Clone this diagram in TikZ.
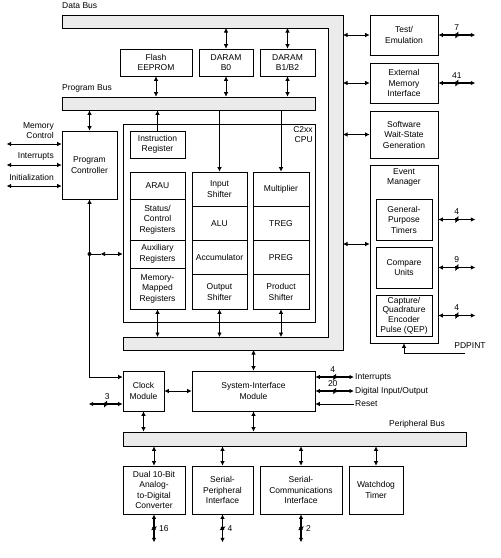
\documentclass[tikz,border=0pt]{standalone}
\usepackage{fontspec}
\setmainfont{Liberation Sans}
\usetikzlibrary{arrows.meta, positioning, calc}

\tikzset{
  blk/.style={draw, line width=0.7pt, align=center, inner sep=1pt},
  bus/.style={draw, line width=0.7pt, fill=black!8, inner sep=0pt},
  lbl/.style={inner sep=1pt},
  num/.style={inner sep=0.5pt},
  dbl/.style={{Latex[length=4.5pt,width=4.5pt]}-{Latex[length=4.5pt,width=4.5pt]}, line width=0.7pt},
  one/.style={-{Latex[length=4.5pt,width=4.5pt]}, line width=0.7pt},
  wide/.style={dbl, line width=1.3pt},
  hslash/.pic={\draw[line width=0.7pt] (-1.5,3.5) -- (1.5,-3.5);},
  vslash/.pic={\draw[line width=0.7pt] (-3,2) -- (3,-2);}
}

\begin{document}
\begin{tikzpicture}[x=1pt, y=-1pt, font=\fontsize{8.5}{10.5}\selectfont]
\useasboundingbox (0,0) rectangle (501,558);

% Data bus (L shape) and the other buses
\draw[bus] (62,15) -- (343,15) -- (343,350) -- (123,350) -- (123,337) -- (328,337) -- (328,28) -- (62,28) -- cycle;
\coordinate (dbtop) at (0,28);
\coordinate (dbright) at (343,0);
\coordinate (dbbot) at (0,337);
\coordinate (dbout) at (0,350);
\node[bus, minimum width=253, minimum height=13] (pbus) at (188.5,103.5) {};
\node[bus, minimum width=343, minimum height=14] (perbus) at (294.5,439) {};

\node[lbl, anchor=west] at (61,6) {Data Bus};
\node[lbl, anchor=west] at (61,88) {Program Bus};
\node[lbl] at (417,424) {Peripheral Bus};

% Memories
\node[blk, minimum width=72, minimum height=27] (flash) at (156,62.5) {Flash\\EEPROM};
\node[blk, minimum width=54, minimum height=27] (b0) at (226,62.5) {DARAM\\B0};
\node[blk, minimum width=55, minimum height=27] (b12) at (287.5,62.5) {DARAM\\B1/B2};

\draw[dbl] (b0.north) -- (b0.north |- dbtop);
\draw[dbl] (b12.north) -- (b12.north |- dbtop);
\foreach \m in {flash,b0,b12}
  \draw[dbl] (\m.south) -- (\m.south |- pbus.north);

% Program controller
\node[blk, minimum width=55, minimum height=68] (pc) at (89.5,165) {Program\\Controller};
\draw[dbl] (pc.north) -- (pc.north |- pbus.south);

\node[lbl, anchor=south east, align=right] at (55,140) {Memory\\Control};
\node[lbl, anchor=south east] at (55,161) {Interrupts};
\node[lbl, anchor=south east] at (55,182) {Initialization};
\draw[dbl] (pc.west |- 0,144) -- +(-55,0);
\draw[dbl] (pc.west |- 0,165) -- +(-55,0);
\draw[dbl] (pc.west |- 0,186) -- +(-55,0);

% CPU
\node[draw, line width=0.7pt, minimum width=192, minimum height=198] (cpu) at (219,223) {};
\node[lbl, anchor=north east, align=right, inner sep=2.5pt] at (cpu.north east) {C2xx\\CPU};

\node[blk, minimum width=55, minimum height=27] (ir) at (157.5,144.5) {Instruction\\Register};
\draw[one] (ir.north) -- (ir.north |- pbus.south);

% left column
\node[blk, minimum width=55, minimum height=27] (arau) at (157.5,185.5) {ARAU};
\node[blk, minimum width=55, minimum height=41] (stat) at (157.5,219.5) {Status/\\Control\\Registers};
\node[blk, minimum width=55, minimum height=28] (aux) at (157.5,254) {Auxiliary\\Registers};
\node[blk, minimum width=55, minimum height=41] (mmr) at (157.5,288.5) {Memory-\\Mapped\\Registers};

% middle column
\node[blk, minimum width=55, minimum height=34.25] (ish) at (219.5,189.1) {Input\\Shifter};
\node[blk, minimum width=55, minimum height=34.25] (alu) at (219.5,223.4) {ALU};
\node[blk, minimum width=55, minimum height=34.25] (acc) at (219.5,257.6) {Accumulator};
\node[blk, minimum width=55, minimum height=34.25] (osh) at (219.5,291.9) {Output\\Shifter};

% right column
\node[blk, minimum width=56, minimum height=34.25] (mul) at (281,189.1) {Multiplier};
\node[blk, minimum width=56, minimum height=34.25] (treg) at (281,223.4) {TREG};
\node[blk, minimum width=56, minimum height=34.25] (preg) at (281,257.6) {PREG};
\node[blk, minimum width=56, minimum height=34.25] (psh) at (281,291.9) {Product\\Shifter};

\draw[one] (pbus.south -| ish.north) -- (ish.north);
\draw[one] (pbus.south -| mul.north) -- (mul.north);
\foreach \m in {mmr,osh,psh}
  \draw[dbl] (\m.south) -- (\m.south |- dbbot);

% Clock and system interface
\node[blk, minimum width=41, minimum height=40] (clk) at (143.5,391) {Clock\\Module};
\node[blk, minimum width=123, minimum height=40] (sim) at (253.5,391) {System-Interface\\Module};

\coordinate (dot) at (89.5,254);
\fill (dot) circle (2);
\draw[one] (dot) -- (pc.south);
\draw (dot) -- ++(11,0) coordinate (dotr);
\draw[dbl] (dotr) -- (dotr -| cpu.west);
\draw[one] (dot) |- ([yshift=14pt]clk.west);

\draw[dbl] (clk.east) -- (sim.west);
\draw[dbl] (sim.north) -- (sim.north |- dbout);
\draw[dbl] (clk.south) -- (clk.south |- perbus.north);
\draw[dbl] (sim.south) -- (sim.south |- perbus.north);
\draw[wide] ([yshift=-13pt]clk.west) -- ++(-34,0) pic[pos=.5]{hslash} node[num, pos=.45, above=3.5pt] {3};

\node[lbl, anchor=west] (intr) at (354,377) {Interrupts};
\node[lbl, anchor=west] (dio) at (354,391) {Digital Input/Output};
\node[lbl, anchor=west] (rst) at (354,404) {Reset};
\draw[wide] (sim.east |- intr) -- (intr.west) pic[pos=.5]{hslash} node[num, pos=.45, above=3.5pt] {4};
\draw[wide] (sim.east |- dio) -- (dio.west) pic[pos=.5]{hslash} node[num, pos=.45, above=3.5pt] {20};
\draw[one] (rst.west) -- (sim.east |- rst);

% Peripherals
\node[blk, minimum width=62, minimum height=48] (adc) at (154,490) {Dual 10-Bit\\Analog-\\to-Digital\\Converter};
\node[blk, minimum width=61, minimum height=48] (spi) at (222.5,490) {Serial-\\Peripheral\\Interface};
\node[blk, minimum width=82, minimum height=48] (sci) at (301,490) {Serial-\\Communications\\Interface};
\node[blk, minimum width=54, minimum height=48] (wdt) at (376,490) {Watchdog\\Timer};
\foreach \m in {adc,spi,sci,wdt}
  \draw[dbl] (\m.north) -- (\m.north |- perbus.south);
\draw[wide] (adc.south) -- ++(0,28) pic[pos=.5]{vslash} node[num, pos=.5, right=4pt] {16};
\draw[wide] (spi.south) -- ++(0,28) pic[pos=.5]{vslash} node[num, pos=.5, right=4pt] {4};
\draw[wide] (sci.south) -- ++(0,28) pic[pos=.5]{vslash} node[num, pos=.5, right=4pt] {2};

% Right side
\node[blk, minimum width=68, minimum height=40] (test) at (404,35) {Test/\\Emulation};
\node[blk, minimum width=68, minimum height=40] (emi) at (404,83) {External\\Memory\\Interface};
\node[blk, minimum width=68, minimum height=47] (sws) at (404,134.5) {Software\\Wait-State\\Generation};
\node[blk, minimum width=68, minimum height=178] (em) at (404,254) {};
\node[lbl, anchor=north, align=center, inner sep=3.5pt] at (em.north) {Event\\Manager};
\node[blk, minimum width=56, minimum height=41] (gpt) at (404,219.5) {General-\\Purpose\\Timers};
\node[blk, minimum width=56, minimum height=41] (cmp) at (404,267.5) {Compare\\Units};
\node[blk, minimum width=56, minimum height=41, font=\fontsize{8.5}{9.6}\selectfont] (cap) at (404,315.5) {Capture/\\Quadrature\\Encoder\\Pulse (QEP)};

\foreach \m in {test,emi,sws}
  \draw[dbl] (\m.west) -- (\m.west -| dbright);
\draw[dbl] ([yshift=10pt]em.west) -- ([yshift=10pt]em.west -| dbright);

\draw[wide] (test.east) -- ++(37,0) pic[pos=.5]{hslash} node[num, pos=.5, above=3.5pt] {7};
\draw[wide] (emi.east) -- ++(37,0) pic[pos=.5]{hslash} node[num, pos=.5, above=3.5pt] {41};
\draw[wide] (em.east |- gpt) -- ++(37,0) pic[pos=.5]{hslash} node[num, pos=.5, above=3.5pt] {4};
\draw[wide] (em.east |- cmp) -- ++(37,0) pic[pos=.5]{hslash} node[num, pos=.5, above=3.5pt] {9};
\draw[wide] (em.east |- cap) -- ++(37,0) pic[pos=.5]{hslash} node[num, pos=.5, above=3.5pt] {4};

\node[lbl] (pdp) at (470,346) {PDPINT};
\coordinate (pdpin) at (465,353);
\draw[one] (pdpin) -| (em.south);

\end{tikzpicture}
\end{document}
